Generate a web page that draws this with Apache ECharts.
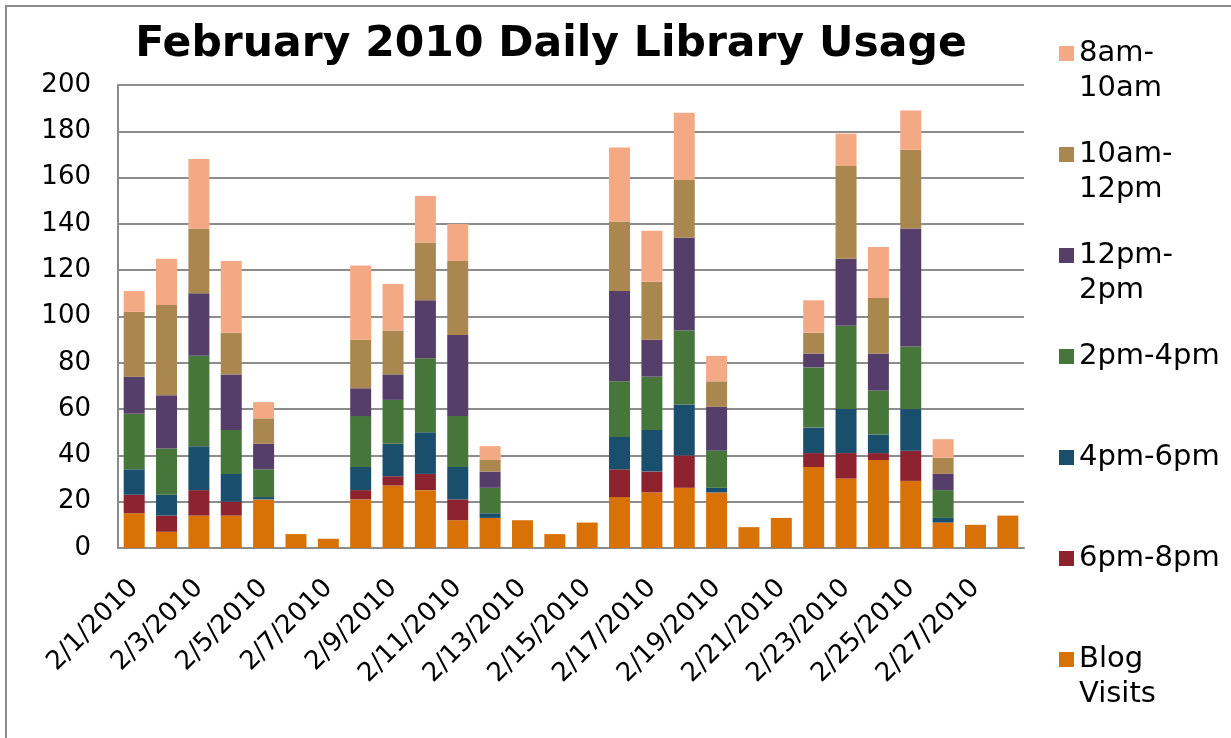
<!DOCTYPE html>
<html lang="en">
<head>
    <meta charset="UTF-8">
    <title>February 2010 Daily Library Usage</title>
    <script src="https://cdn.jsdelivr.net/npm/echarts@6/dist/echarts.min.js"></script>
    <style>
        html, body {margin: 0; padding: 0; background: #fff;}
        #chart {width: 1231px; height: 738px;}
    </style>
</head>
<body>
<div id="chart"></div>
<script>
    // 日期
    var days = ['2/1/2010', '2/2/2010', '2/3/2010', '2/4/2010', '2/5/2010', '2/6/2010', '2/7/2010',
        '2/8/2010', '2/9/2010', '2/10/2010', '2/11/2010', '2/12/2010', '2/13/2010', '2/14/2010',
        '2/15/2010', '2/16/2010', '2/17/2010', '2/18/2010', '2/19/2010', '2/20/2010', '2/21/2010',
        '2/22/2010', '2/23/2010', '2/24/2010', '2/25/2010', '2/26/2010', '2/27/2010', '2/28/2010']

    // 各时段数据 (从下往上)
    var blogVisits = [15, 7, 14, 14, 21, 6, 4, 21, 27, 25, 12, 13, 12, 6, 11, 22, 24, 26, 24, 9, 13, 35, 30, 38, 29, 11, 10, 14]
    var pm6to8 = [8, 7, 11, 6, 0, 0, 0, 4, 4, 7, 9, 0, 0, 0, 0, 12, 9, 14, 0, 0, 0, 6, 11, 3, 13, 0, 0, 0]
    var pm4to6 = [11, 9, 19, 12, 1, 0, 0, 10, 14, 18, 14, 2, 0, 0, 0, 14, 18, 22, 2, 0, 0, 11, 19, 8, 18, 2, 0, 0]
    var pm2to4 = [24, 20, 39, 19, 12, 0, 0, 22, 19, 32, 22, 11, 0, 0, 0, 24, 23, 32, 16, 0, 0, 26, 36, 19, 27, 12, 0, 0]
    var pm12to2 = [16, 23, 27, 24, 11, 0, 0, 12, 11, 25, 35, 7, 0, 0, 0, 39, 16, 40, 19, 0, 0, 6, 29, 16, 51, 7, 0, 0]
    var am10to12 = [28, 39, 28, 18, 11, 0, 0, 21, 19, 25, 32, 5, 0, 0, 0, 30, 25, 25, 11, 0, 0, 9, 40, 24, 34, 7, 0, 0]
    var am8to10 = [9, 20, 30, 31, 7, 0, 0, 32, 20, 20, 16, 6, 0, 0, 0, 32, 22, 29, 11, 0, 0, 14, 14, 22, 17, 8, 0, 0]

    var seriesNames = ['Blog Visits', '6pm-8pm', '4pm-6pm', '2pm-4pm', '12pm-2pm', '10am-12pm', '8am-10am']
    var seriesData = [blogVisits, pm6to8, pm4to6, pm2to4, pm12to2, am10to12, am8to10]
    var colors = ['#D87206', '#8E2330', '#1A4E6D', '#46763A', '#553F6A', '#AA874F', '#F4A985']

    // 图例文字: 上面补一空行, 方块就跟第一行对齐 (方块居中于三行)
    var legendLabels = {
        '8am-10am': ' \n8am-\n10am',
        '10am-12pm': ' \n10am-\n12pm',
        '12pm-2pm': ' \n12pm-\n2pm',
        '2pm-4pm': ' \n2pm-4pm\n ',
        '4pm-6pm': ' \n4pm-6pm\n ',
        '6pm-8pm': ' \n6pm-8pm\n ',
        'Blog Visits': ' \nBlog\nVisits'
    }

    var font = 'DejaVu Sans, Verdana, sans-serif'
    var myChart = echarts.init(document.getElementById('chart'))

    var series = seriesNames.map(function (name, i) {
        return {
            name: name,
            type: 'bar',
            stack: 'usage',
            barWidth: 21,
            data: seriesData[i],
            itemStyle: {color: colors[i]}
        }
    })

    var option = {
        animation: false,
        color: colors,
        title: {
            text: 'February 2010 Daily Library Usage',
            left: 546,
            top: 18,
            textAlign: 'center',
            textStyle: {fontFamily: font, fontSize: 42.5, fontWeight: 'bold', color: '#000'}
        },
        legend: {
            orient: 'vertical',
            left: 1059,
            top: 1,
            padding: 0,
            icon: 'rect',
            itemWidth: 15,
            itemHeight: 15,
            itemGap: -4,
            data: seriesNames.slice().reverse(),
            formatter: function (name) {
                return legendLabels[name]
            },
            textStyle: {
                fontFamily: font,
                fontSize: 29,
                lineHeight: 35,
                color: '#000'
            }
        },
        grid: {
            left: 118,
            right: 207,
            top: 85,
            bottom: 190
        },
        xAxis: {
            type: 'category',
            data: days,
            axisLine: {show: true, lineStyle: {color: '#8c8c8c', width: 2}},
            axisTick: {show: false},
            axisLabel: {
                interval: 1,
                rotate: 45,
                margin: 36,
                fontFamily: font,
                fontSize: 26,
                color: '#000'
            }
        },
        yAxis: {
            type: 'value',
            min: 0,
            max: 200,
            interval: 20,
            axisLine: {show: true, lineStyle: {color: '#8c8c8c', width: 2}},
            axisTick: {show: false},
            splitLine: {lineStyle: {color: '#8c8c8c', width: 2}},
            axisLabel: {
                margin: 27,
                fontFamily: font,
                fontSize: 26,
                color: '#000'
            }
        },
        graphic: [{
            type: 'rect',
            shape: {x: 6, y: 6, width: 1400, height: 900},
            style: {fill: 'none', stroke: '#8c8c8c', lineWidth: 2}
        }],
        series: series
    };

    myChart.setOption(option)
</script>
</body>
</html>
